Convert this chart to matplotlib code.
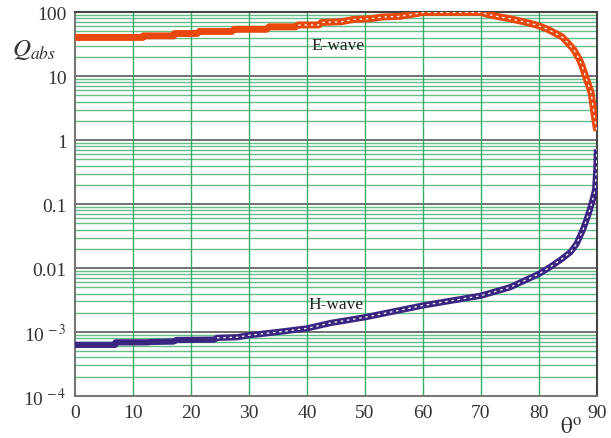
import numpy as np
import matplotlib.pyplot as plt

# --- data ---
theta_e = [0, 11.7, 11.8, 17, 17.2, 21, 21.5, 27, 27.5, 33, 33.5, 38, 38.5, 42, 42.5,
           46, 48, 51, 53, 56, 58, 60, 70, 71, 73, 75, 77, 79, 80, 81.5, 83, 84,
           85, 86, 87, 87.5, 88, 88.5, 89, 89.3, 89.6, 89.85, 90]
q_e = [40.3, 40.3, 42.6, 42.6, 46.4, 46.4, 50, 50, 54, 54, 59, 59, 63, 63, 69,
       71, 77, 79, 84, 86, 92, 99, 99, 93, 85, 79, 72, 65, 61, 54, 46, 41,
       33, 26, 18, 14, 10, 7.5, 5.5, 3.5, 2.2, 1.6, 1.4]

theta_h = [0, 6.9, 7, 12.5, 13, 17, 17.5, 24, 24.5, 28, 30, 35, 40, 44, 50, 55, 60,
           65, 70, 75, 80, 82, 84, 85.5, 86.5, 87.6, 88.3, 88.8, 89.3, 89.7, 89.9, 90]
q_h = [6.3e-4, 6.3e-4, 6.9e-4, 6.9e-4, 7.0e-4, 7.1e-4, 7.5e-4, 7.6e-4, 8.1e-4, 8.3e-4,
       8.9e-4, 1.0e-3, 1.14e-3, 1.38e-3, 1.7e-3, 2.1e-3, 2.6e-3, 3.1e-3, 3.7e-3,
       5.0e-3, 8.1e-3, 0.0105, 0.014, 0.018, 0.024, 0.04, 0.06, 0.083, 0.12, 0.17,
       0.35, 0.72]

x_ticks = [0, 10, 20, 30, 40, 50, 60, 70, 80, 90]
y_ticks = [1e-4, 1e-3, 0.01, 0.1, 1, 10, 100]
y_labels = ['10$^{\\,-4}$', '10$^{\\,-3}$', '0.01', '0.1', '1', '10', '100']

E_COLOR = '#e8480c'
H_COLOR = '#3a2580'
GREEN = '#1fa458'

plt.rcParams['font.family'] = ['Liberation Serif', 'DejaVu Serif']
plt.rcParams['mathtext.fontset'] = 'stix'

fig = plt.figure(figsize=(6.11, 4.39), dpi=100)
ax = fig.add_axes([0.1227, 0.0957, 0.8543, 0.8743])
ax.set_yscale('log')
ax.set_xlim(0, 90)
ax.set_ylim(1e-4, 100)

# grid: green minor lines, grey decade lines, green verticals
for dec in [1e-4, 1e-3, 1e-2, 1e-1, 1, 10]:
    for m in range(2, 10):
        ax.axhline(dec * m, color=GREEN, lw=1.0, alpha=0.7, zorder=1)
for dec in [1e-3, 1e-2, 0.1, 1, 10]:
    ax.axhline(dec, color='#666666', lw=1.3, zorder=1)
for xv in x_ticks[1:-1]:
    ax.axvline(xv, color=GREEN, lw=1.0, alpha=0.9, zorder=1)

# curves: thick band with a broken white core where the points spread out
ax.plot(theta_e, q_e, color=E_COLOR, lw=5, solid_capstyle='butt', zorder=3)
ax.plot(theta_e[12:], q_e[12:], color='white', lw=0.9, dashes=(2, 3), zorder=4)
ax.plot(theta_h, q_h, color=H_COLOR, lw=4.5, solid_capstyle='butt', zorder=3)
ax.plot(theta_h[8:], q_h[8:], color='white', lw=0.9, dashes=(2, 3), zorder=4)

ax.text(45.3, 31, 'E-wave', fontsize=12.5, ha='center', va='center', color='#222222')
ax.text(45, 2.7e-3, 'H-wave', fontsize=12.5, ha='center', va='center', color='#222222')

ax.set_xticks(x_ticks)
ax.set_yticks(y_ticks)
ax.set_yticklabels(y_labels)
ax.minorticks_off()
ax.tick_params(length=0, labelsize=14, colors='#333333', pad=6)

for side in ['left', 'bottom']:
    ax.spines[side].set_color('#777777')
    ax.spines[side].set_linewidth(1.5)
for side in ['top', 'right']:
    ax.spines[side].set_color('#444444')
    ax.spines[side].set_linewidth(1.5)

fig.text(0.02, 0.885, '$Q_{abs}$', fontsize=18, color='#333333', va='center')
fig.text(0.935, 0.022, '$\\mathrm{\\theta}^{\\mathrm{o}}$', fontsize=17,
         color='#333333', ha='center', va='center')

fig.savefig('out.png', dpi=100)
